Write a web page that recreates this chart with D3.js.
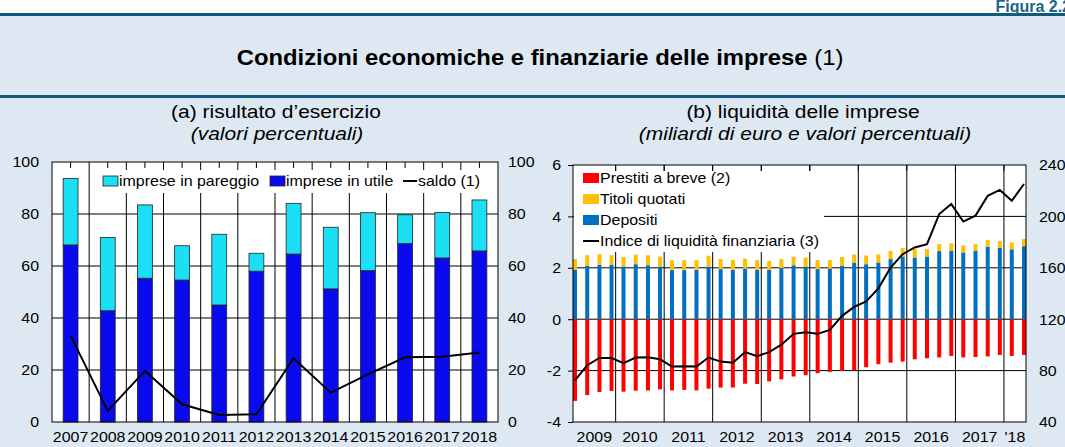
<!DOCTYPE html>
<html>
<head>
<meta charset="utf-8">
<script src="https://cdn.jsdelivr.net/npm/d3@7"></script>
<style>
  body { margin: 0; background: #fff; }
  svg { display: block; font-family: "Liberation Sans", Arial, sans-serif; }
</style>
</head>
<body>
<div id="chart"></div>
<script>
// panel (a): risultato d'esercizio, valori percentuali
const years = ['2007', '2008', '2009', '2010', '2011', '2012', '2013', '2014', '2015', '2016', '2017', '2018'];
const impreseUtile = [68.1, 42.8, 55.3, 54.6, 45.0, 58.0, 64.6, 51.2, 58.2, 68.6, 63.1, 65.8];
const impresePareggio = [25.6, 28.2, 28.2, 13.2, 27.2, 6.9, 19.5, 23.7, 22.3, 11.1, 17.5, 19.6];
const saldo = [33.2, 4.3, 19.7, 6.8, 2.7, 3.0, 24.5, 11.3, 18.3, 24.9, 25.1, 26.7];
const ticksA = [0, 20, 40, 60, 80, 100];

// panel (b): liquidita delle imprese, quarterly (quarter-end month)
const quarters = [
  '2009-03', '2009-06', '2009-09', '2009-12', '2010-03', '2010-06', '2010-09', '2010-12',
  '2011-03', '2011-06', '2011-09', '2011-12', '2012-03', '2012-06', '2012-09', '2012-12',
  '2013-03', '2013-06', '2013-09', '2013-12', '2014-03', '2014-06', '2014-09', '2014-12',
  '2015-03', '2015-06', '2015-09', '2015-12', '2016-03', '2016-06', '2016-09', '2016-12',
  '2017-03', '2017-06', '2017-09', '2017-12', '2018-03', '2018-06'];
const prestiti = [-3.18, -2.95, -2.83, -2.79, -2.82, -2.78, -2.77, -2.73, -2.77, -2.75, -2.77, -2.70,
  -2.66, -2.66, -2.51, -2.52, -2.42, -2.34, -2.23, -2.18, -2.10, -2.05, -2.01, -1.99,
  -1.87, -1.75, -1.69, -1.65, -1.56, -1.52, -1.49, -1.43, -1.49, -1.47, -1.45, -1.39, -1.43, -1.39];
const titoli = [0.42, 0.41, 0.41, 0.37, 0.37, 0.37, 0.39, 0.39, 0.39, 0.39, 0.38, 0.42,
  0.39, 0.39, 0.39, 0.38, 0.35, 0.35, 0.33, 0.35, 0.35, 0.33, 0.34, 0.33,
  0.34, 0.31, 0.32, 0.33, 0.33, 0.29, 0.27, 0.28, 0.27, 0.25, 0.26, 0.27, 0.27, 0.28];
const depositi = [1.92, 2.08, 2.12, 2.12, 2.05, 2.14, 2.10, 2.05, 1.91, 1.91, 1.92, 2.05,
  1.95, 1.92, 1.97, 1.92, 1.92, 1.99, 2.10, 2.05, 1.95, 1.97, 2.08, 2.19,
  2.14, 2.21, 2.34, 2.44, 2.40, 2.44, 2.65, 2.67, 2.60, 2.67, 2.82, 2.77, 2.72, 2.84];
const indice = [72.4, 84.2, 89.8, 89.8, 85.8, 90.2, 90.4, 88.8, 83.2, 83.4, 83.2, 90.2,
  87.0, 86.2, 94.4, 91.2, 94.4, 100.2, 108.6, 109.8, 108.6, 111.6, 122.6, 129.6,
  133.8, 144.0, 160.2, 170.6, 175.8, 178.4, 201.8, 209.6, 196.0, 200.6, 216.0, 220.6, 212.2, 225.2];
const ticksBLeft = [-4, -2, 0, 2, 4, 6];
const ticksBRight = [40, 80, 120, 160, 200, 240];
const yearLabelsB = ['2009', '2010', '2011', '2012', '2013', '2014', '2015', '2016', '2017', "'18"];

const W = 1065, H = 447;
const stretch = 1.14; // the original text is a bit wider than Arial
const teal = '#12587a';

const svg = d3.select('#chart').append('svg')
  .attr('width', W)
  .attr('height', H);

svg.append('rect').attr('width', W).attr('height', H).attr('fill', '#dde8f2');
svg.append('rect').attr('width', W).attr('height', 13).attr('fill', '#fff');
svg.append('rect').attr('y', 13).attr('width', W).attr('height', 3).attr('fill', teal);
svg.append('rect').attr('y', 95).attr('width', W).attr('height', 3).attr('fill', teal);

function label(g, x, y, s, size, anchor, sx) {
  return g.append('text')
    .attr('transform', `translate(${x},${y}) scale(${sx || stretch},1)`)
    .attr('text-anchor', anchor || 'middle')
    .attr('font-size', size)
    .attr('fill', '#000')
    .text(s);
}

label(svg, 1071, 12, 'Figura 2.2', 16, 'end', 1.0)
  .attr('font-weight', 'bold').attr('fill', '#1a6588');

const title = label(svg, 540, 65, '', 22.5, 'middle', 1.06);
title.append('tspan').attr('font-weight', 'bold').text('Condizioni economiche e finanziarie delle imprese');
title.append('tspan').text(' (1)');

label(svg, 276, 118, '(a) risultato d\u2019esercizio', 17.5, 'middle', 1.2);
label(svg, 277, 140, '(valori percentuali)', 17.5, 'middle', 1.2).attr('font-style', 'italic');
label(svg, 803, 118, '(b) liquidit\u00e0 delle imprese', 17.5, 'middle', 1.2);
label(svg, 805, 140, '(miliardi di euro e valori percentuali)', 17.5, 'middle', 1.2).attr('font-style', 'italic');

// ---------- panel (a) ----------
const A = { left: 52, right: 498, top: 162, bottom: 422 };
const x1 = d3.scaleBand().domain(years).range([A.left, A.right]).paddingInner(0.6).paddingOuter(0.3);
const y1 = d3.scaleLinear().domain([0, 100]).range([A.bottom, A.top]);
const gA = svg.append('g');

gA.append('rect')
  .attr('x', A.left).attr('y', A.top)
  .attr('width', A.right - A.left).attr('height', A.bottom - A.top)
  .attr('fill', '#fff');

gA.selectAll('.hgrid').data(ticksA.slice(1, -1)).enter().append('line')
  .attr('x1', A.left).attr('x2', A.right)
  .attr('y1', d => y1(d)).attr('y2', d => y1(d))
  .attr('stroke', '#000').attr('stroke-width', 1);

const bound1 = d => x1(d) + x1.bandwidth() / 2 - x1.step() / 2;
gA.selectAll('.vgrid').data(years.slice(1)).enter().append('line')
  .attr('x1', d => bound1(d)).attr('x2', d => bound1(d))
  .attr('y1', A.top).attr('y2', A.bottom)
  .attr('stroke', '#000').attr('stroke-width', 1);

// legend background
gA.append('rect').attr('x', 97).attr('y', 170).attr('width', 395).attr('height', 23).attr('fill', '#fff');

gA.selectAll('.tick-top').data(years).enter().append('line')
  .attr('x1', d => x1(d) + x1.bandwidth() / 2).attr('x2', d => x1(d) + x1.bandwidth() / 2)
  .attr('y1', A.top).attr('y2', A.top + 6)
  .attr('stroke', '#000');

gA.selectAll('.bar-utile').data(years).enter().append('rect')
  .attr('x', d => x1(d)).attr('width', x1.bandwidth())
  .attr('y', (d, i) => y1(impreseUtile[i]))
  .attr('height', (d, i) => y1(0) - y1(impreseUtile[i]))
  .attr('fill', '#0a0aee').attr('stroke', '#222').attr('stroke-width', 0.8);

gA.selectAll('.bar-pareggio').data(years).enter().append('rect')
  .attr('x', d => x1(d)).attr('width', x1.bandwidth())
  .attr('y', (d, i) => y1(impreseUtile[i] + impresePareggio[i]))
  .attr('height', (d, i) => y1(impreseUtile[i]) - y1(impreseUtile[i] + impresePareggio[i]))
  .attr('fill', '#1be0f5').attr('stroke', '#222').attr('stroke-width', 0.8);

const saldoLine = d3.line()
  .x((d, i) => x1(years[i]) + x1.bandwidth() / 2)
  .y(d => y1(d));
gA.append('path').datum(saldo)
  .attr('d', saldoLine)
  .attr('fill', 'none').attr('stroke', '#000').attr('stroke-width', 2);

gA.append('rect')
  .attr('x', A.left).attr('y', A.top)
  .attr('width', A.right - A.left).attr('height', A.bottom - A.top)
  .attr('fill', 'none').attr('stroke', '#000').attr('stroke-width', 1);

// axes (a)
const axA1 = gA.append('g').attr('transform', `translate(${A.left},0)`)
  .call(d3.axisLeft(y1).tickValues(ticksA).tickSize(0));
const axA2 = gA.append('g').attr('transform', `translate(${A.right},0)`)
  .call(d3.axisRight(y1).tickValues(ticksA).tickSize(0));
const axA3 = gA.append('g').attr('transform', `translate(0,${A.bottom})`)
  .call(d3.axisBottom(x1).tickSize(0));
[axA1, axA2, axA3].forEach(a => {
  a.select('.domain').remove();
  a.selectAll('text').attr('font-size', 14).attr('fill', '#000')
    .attr('font-family', '"Liberation Sans", Arial, sans-serif');
});
axA1.selectAll('text').attr('transform', `scale(${stretch},1)`).attr('x', -13 / stretch).attr('dy', '0.35em');
axA2.selectAll('text').attr('transform', `scale(${stretch},1)`).attr('x', 10 / stretch).attr('dy', '0.35em');
axA3.selectAll('text').attr('transform', `scale(${stretch},1)`).attr('y', 20).attr('dy', null);

// legend (a)
const legA = gA.append('g');
legA.append('rect').attr('x', 103).attr('y', 176).attr('width', 15).attr('height', 10)
  .attr('fill', '#1be0f5').attr('stroke', '#222').attr('stroke-width', 0.8);
label(legA, 119, 186, 'imprese in pareggio', 14, 'start');
legA.append('rect').attr('x', 270).attr('y', 176).attr('width', 15).attr('height', 10)
  .attr('fill', '#0a0aee').attr('stroke', '#222').attr('stroke-width', 0.8);
label(legA, 286, 186, 'imprese in utile', 14, 'start');
legA.append('line').attr('x1', 403).attr('x2', 417).attr('y1', 181).attr('y2', 181)
  .attr('stroke', '#000').attr('stroke-width', 2);
label(legA, 418, 186, 'saldo (1)', 14, 'start');

// ---------- panel (b) ----------
const B = { left: 573, right: 1026, top: 165, bottom: 422 };
const parseQ = d3.timeParse('%Y-%m');
const qDates = quarters.map(parseQ);
const x2 = d3.scaleTime().domain([new Date(2009, 1, 14), new Date(2018, 5, 16)]).range([B.left, B.right]);
const y2 = d3.scaleLinear().domain([-4, 6]).range([B.bottom, B.top]);
const y2r = d3.scaleLinear().domain([40, 240]).range([B.bottom, B.top]);
const gB = svg.append('g');

gB.append('rect')
  .attr('x', B.left).attr('y', B.top)
  .attr('width', B.right - B.left).attr('height', B.bottom - B.top)
  .attr('fill', '#fff');

gB.selectAll('.hgrid').data(ticksBLeft.slice(1, -1)).enter().append('line')
  .attr('x1', B.left).attr('x2', B.right)
  .attr('y1', d => y2(d)).attr('y2', d => y2(d))
  .attr('stroke', '#000').attr('stroke-width', 1);

const yearStarts = d3.timeYear.range(new Date(2010, 0, 1), new Date(2018, 0, 2));
gB.selectAll('.vgrid').data(yearStarts).enter().append('line')
  .attr('x1', d => x2(d)).attr('x2', d => x2(d))
  .attr('y1', B.top).attr('y2', B.bottom)
  .attr('stroke', '#000').attr('stroke-width', 1);

// legend background
gB.append('rect').attr('x', 574).attr('y', 171).attr('width', 250).attr('height', 81).attr('fill', '#fff');

gB.selectAll('.tick-top').data(yearStarts).enter().append('line')
  .attr('x1', d => x2(d)).attr('x2', d => x2(d))
  .attr('y1', B.top).attr('y2', B.top + 6)
  .attr('stroke', '#000');

const bw = 4;
gB.selectAll('.bar-dep').data(qDates).enter().append('rect')
  .attr('x', d => x2(d) - bw / 2).attr('width', bw)
  .attr('y', (d, i) => y2(depositi[i]))
  .attr('height', (d, i) => y2(0) - y2(depositi[i]))
  .attr('fill', '#0070c0');
gB.selectAll('.bar-tit').data(qDates).enter().append('rect')
  .attr('x', d => x2(d) - bw / 2).attr('width', bw)
  .attr('y', (d, i) => y2(depositi[i] + titoli[i]))
  .attr('height', (d, i) => y2(depositi[i]) - y2(depositi[i] + titoli[i]))
  .attr('fill', '#ffc000');
gB.selectAll('.bar-pre').data(qDates).enter().append('rect')
  .attr('x', d => x2(d) - bw / 2).attr('width', bw)
  .attr('y', y2(0))
  .attr('height', (d, i) => y2(prestiti[i]) - y2(0))
  .attr('fill', '#ff0000');

const indiceLine = d3.line()
  .x((d, i) => x2(qDates[i]))
  .y(d => y2r(d));
gB.append('path').datum(indice)
  .attr('d', indiceLine)
  .attr('fill', 'none').attr('stroke', '#000').attr('stroke-width', 2);

gB.append('rect')
  .attr('x', B.left).attr('y', B.top)
  .attr('width', B.right - B.left).attr('height', B.bottom - B.top)
  .attr('fill', 'none').attr('stroke', '#000').attr('stroke-width', 1);

// axes (b)
const axB1 = gB.append('g').attr('transform', `translate(${B.left},0)`)
  .call(d3.axisLeft(y2).tickValues(ticksBLeft).tickSize(5).tickFormat(d3.format('d')));
const axB2 = gB.append('g').attr('transform', `translate(${B.right},0)`)
  .call(d3.axisRight(y2r).tickValues(ticksBRight).tickSize(0));
[axB1, axB2].forEach(a => {
  a.select('.domain').remove();
  a.selectAll('line').attr('stroke', '#000');
  a.selectAll('text').attr('font-size', 14).attr('fill', '#000')
    .attr('font-family', '"Liberation Sans", Arial, sans-serif')
    .attr('transform', `scale(${stretch},1)`).attr('dy', '0.35em');
});
axB1.selectAll('text').attr('x', -12 / stretch).text(d => d < 0 ? '-' + Math.abs(d) : d);
axB2.selectAll('text').attr('x', 13 / stretch);

const [d0, d1] = x2.domain();
yearLabelsB.forEach((s, i) => {
  const a = new Date(2009 + i, 0, 1), b = new Date(2010 + i, 0, 1);
  const cx = (x2(a < d0 ? d0 : a) + x2(b > d1 ? d1 : b)) / 2;
  label(gB, cx, 442, s, 14);
});

// legend (b)
const legB = gB.append('g');
const legItems = [
  { name: 'Prestiti a breve (2)', color: '#ff0000' },
  { name: 'Titoli quotati', color: '#ffc000' },
  { name: 'Depositi', color: '#0070c0' },
  { name: 'Indice di liquidit\u00e0 finanziaria (3)', color: null }
];
legItems.forEach((it, i) => {
  const cy = 178 + i * 21;
  if (it.color) {
    legB.append('rect').attr('x', 583).attr('y', cy - 5).attr('width', 16).attr('height', 10).attr('fill', it.color);
  } else {
    legB.append('line').attr('x1', 583).attr('x2', 599).attr('y1', cy).attr('y2', cy)
      .attr('stroke', '#000').attr('stroke-width', 2);
  }
  label(legB, 600, cy + 5, it.name, 14, 'start');
});
</script>
</body>
</html>
